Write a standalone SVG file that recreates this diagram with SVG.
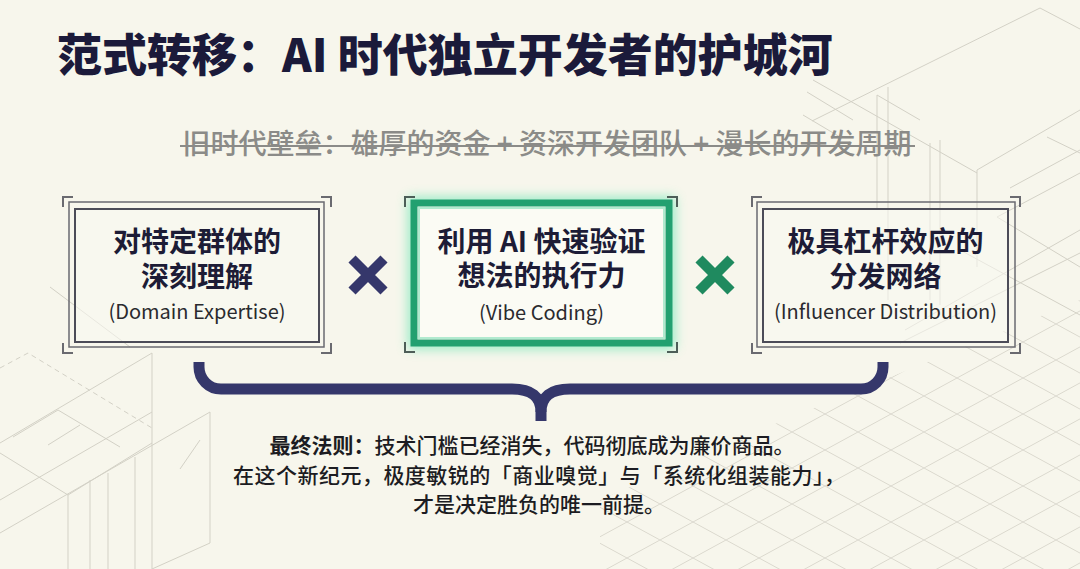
<svg xmlns="http://www.w3.org/2000/svg" width="1080" height="569" viewBox="0 0 1080 569">
  <defs>
    <style>
      .bg { fill: #f7f6ec; }
      .deco { fill: none; stroke: #d3d1c6; stroke-width: 1; }
      .deco-d { fill: none; stroke: #d3d1c6; stroke-width: 1; stroke-dasharray: 5 4; }
      .title { font-family: "Noto Sans CJK SC", "Noto Sans", sans-serif; font-weight: 900; font-size: 45px; fill: #1b1a3a; }
      .strike { font-family: "Noto Sans CJK SC", "Noto Sans", sans-serif; font-weight: 500; font-size: 28px; fill: #8b8b88; }
      .head { font-family: "Noto Sans CJK SC", "Noto Sans", sans-serif; font-weight: 700; font-size: 28px; fill: #1d1c36; text-anchor: middle; }
      .sub { font-family: "Noto Sans CJK SC", "Noto Sans", sans-serif; font-weight: 400; font-size: 20px; fill: #2a2a2e; text-anchor: middle; }
      .body { font-family: "Noto Sans CJK SC", "Noto Sans", sans-serif; font-weight: 500; font-size: 21px; fill: #1c1c22; text-anchor: middle; }
      .frame-o { fill: none; stroke: #6a6a70; stroke-width: 1.5; }
      .frame-i { fill: #faf9f2; fill-opacity: 0.55; stroke: #4c4c58; stroke-width: 2; }
      .corner { fill: none; stroke: #6a6a70; stroke-width: 2; }
      .brace { fill: none; stroke: #35376b; stroke-width: 11; stroke-linecap: butt; stroke-linejoin: round; }
    </style>
    <pattern id="lattice" patternUnits="userSpaceOnUse" width="66" height="36">
      <path d="M0,0 L66,36 M66,0 L0,36" stroke="#dbd9ce" stroke-width="1" fill="none"/>
    </pattern>
    <clipPath id="latclip">
      <polygon points="600,500 760,430 1080,300 1080,569 600,569"/>
    </clipPath>
    <filter id="glow" x="-20%" y="-40%" width="140%" height="180%">
      <feGaussianBlur stdDeviation="6"/>
    </filter>
  </defs>

  <rect class="bg" x="0" y="0" width="1080" height="569"/>

  <!-- decorative background -->
  <g id="background">
    <rect x="600" y="300" width="480" height="269" fill="url(#lattice)" clip-path="url(#latclip)"/>
    <path class="deco" d="M812,121 L1040,8 L1080,29"/>
    <path class="deco" d="M807,92 L853,120 M803,115 L840,137"/>
    <path class="deco" d="M877,95 L877,210 M877,95 L920,120"/>
    <path class="deco" d="M888,87 L888,300 M813,80 L977,173 M930,143 L930,300 M940,140 L940,305"/>
    <path class="deco" d="M977,170 L977,267 M977,170 L1080,110 M1047,137 L1080,153"/>
    <path class="deco" d="M997,217 L1080,173 M997,217 L1080,267 M900,343 L1080,253"/>
    <path class="deco" d="M1010,188 L1080,150 M960,250 L1080,315 M905,330 L1080,230"/>
    <path class="deco-d" d="M0,368 L28,353 L152,428"/>
    <path class="deco" d="M152,353 L152,569 M0,443 L152,353"/>
    <path class="deco" d="M13,437 L58,410 L120,447 M48,445 L80,425"/>
    <path class="deco" d="M0,453 L68,495 L68,569 M90,480 L90,569 M108,473 L108,569 M135,457 L135,569"/>
    <path class="deco" d="M0,533 L210,412 L210,543 L152,569 M0,500 L152,412 M68,495 L152,443"/>
    <path class="deco" d="M50,287 L130,347"/>
    <path class="deco" d="M200,440 L180,469"/>
  </g>

  <!-- title -->
  <g id="title">
    <text class="title" x="57" y="72">范式转移：AI 时代独立开发者的护城河</text>
  </g>

  <!-- old barriers (struck through) -->
  <g id="old-barriers">
    <text class="strike" x="547" y="154" text-anchor="middle">旧时代壁垒：雄厚的资金 + 资深开发团队 + 漫长的开发周期</text>
    <line x1="180" y1="146" x2="915" y2="146" stroke="#8b8b88" stroke-width="2"/>
  </g>

  <!-- box 1 -->
  <g id="box-domain">
    <path class="corner" d="M63,207 V197 H73 M321,197 H331 V207 M331,343 V353 H321 M73,353 H63 V343"/>
    <rect class="frame-o" x="69" y="202" width="255" height="145"/>
    <rect class="frame-i" x="75" y="209" width="244" height="133"/>
    <text class="head" x="197" y="252">对特定群体的</text>
    <text class="head" x="197" y="287">深刻理解</text>
    <text class="sub" x="197" y="319">(Domain Expertise)</text>
  </g>

  <!-- cross 1 -->
  <g id="times-1">
    <path d="M352,259 L384,291 M384,259 L352,291" stroke="#35376b" stroke-width="10" fill="none"/>
  </g>

  <!-- box 2 (highlighted) -->
  <g id="box-vibe">
    <rect x="414" y="203" width="255" height="140" fill="none" stroke="#7ae8bb" stroke-width="12" opacity="0.8" filter="url(#glow)"/>
    <path class="corner" d="M405,207 V197 H415 M667,197 H677 V207 M677,342 V352 H667 M415,352 H405 V342" style="stroke:#4d5e58"/>
    <rect x="414" y="203" width="255" height="140" fill="#fbfbf4" stroke="#22a070" stroke-width="7"/>
    <rect x="419" y="208" width="245" height="130" fill="none" stroke="#9fe6c6" stroke-width="2" opacity="0.8"/>
    <text class="head" x="541.5" y="252">利用 AI 快速验证</text>
    <text class="head" x="541.5" y="286">想法的执行力</text>
    <text class="sub" x="541.5" y="320">(Vibe Coding)</text>
  </g>

  <!-- cross 2 -->
  <g id="times-2">
    <path d="M699,259 L731,291 M731,259 L699,291" stroke="#1f8a5f" stroke-width="10" fill="none"/>
  </g>

  <!-- box 3 -->
  <g id="box-distribution">
    <path class="corner" d="M752,207 V197 H762 M1010,197 H1020 V207 M1020,343 V353 H1010 M762,353 H752 V343"/>
    <rect class="frame-o" x="757" y="202" width="258" height="145"/>
    <rect class="frame-i" x="763" y="209" width="245" height="133"/>
    <text class="head" x="885.5" y="252">极具杠杆效应的</text>
    <text class="head" x="885.5" y="287">分发网络</text>
    <text class="sub" x="885.5" y="319">(Influencer Distribution)</text>
  </g>

  <!-- brace connector -->
  <g id="connectors">
    <path class="brace" d="M199,362 V367 A22,22 0 0 0 221,389 H512 Q541,389 541,412 V421"/>
    <path class="brace" d="M883,362 V367 A22,22 0 0 1 861,389 H570 Q541,389 541,412"/>
  </g>

  <!-- conclusion -->
  <g id="conclusion">
    <text class="body" x="532" y="453"><tspan font-weight="700">最终法则：</tspan>技术门槛已经消失，代码彻底成为廉价商品。</text>
    <text class="body" x="539" y="483" textLength="612" lengthAdjust="spacing">在这个新纪元，极度敏锐的「商业嗅觉」与「系统化组装能力」，</text>
    <text class="body" x="539" y="512">才是决定胜负的唯一前提。</text>
  </g>
</svg>
